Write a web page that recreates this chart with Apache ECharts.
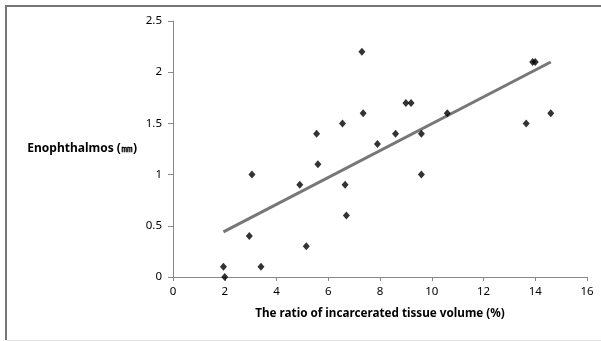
<!DOCTYPE html>
<html>
<head>
<meta charset="utf-8">
<script src="https://cdn.jsdelivr.net/npm/echarts@6/dist/echarts.min.js"></script>
<style>
  html, body { margin: 0; padding: 0; background: #fff; overflow: hidden; }
  #chart { width: 601px; height: 341px; }
</style>
</head>
<body>
<div id="chart"></div>
<script>
// ratio of incarcerated tissue volume (%) vs enophthalmos (mm)
const ratio = [1.95, 2.0, 2.95, 3.05, 3.4, 4.9, 5.15, 5.55, 5.6, 6.55, 6.65, 6.7, 7.3, 7.35, 7.9,
  8.6, 9.0, 9.2, 9.6, 9.6, 10.6, 13.65, 13.9, 14.0, 14.6]
const enophthalmos = [0.1, 0, 0.4, 1.0, 0.1, 0.9, 0.3, 1.4, 1.1, 1.5, 0.9, 0.6, 2.2, 1.6, 1.3,
  1.4, 1.7, 1.7, 1.4, 1.0, 1.6, 1.5, 2.1, 2.1, 1.6]
// linear trend line endpoints
const trendX = [1.95, 14.6]
const trendY = [0.44, 2.1]

const xTicks = { min: 0, max: 16, interval: 2 }
const yTicks = { min: 0, max: 2.5, interval: 0.5 }

const font = 'Noto Sans'
const chart = echarts.init(document.getElementById('chart'))

chart.setOption({
  animation: false,
  // chart-area frame: dark top/left edges, faint bottom edge
  graphic: [
    { type: 'line', shape: { x1: 5, y1: 6, x2: 601, y2: 6 }, style: { stroke: '#777', lineWidth: 2 } },
    { type: 'line', shape: { x1: 6, y1: 5, x2: 6, y2: 341 }, style: { stroke: '#777', lineWidth: 2 } },
    { type: 'line', shape: { x1: 5, y1: 340.5, x2: 601, y2: 340.5 }, style: { stroke: '#e2e2e2', lineWidth: 1 } }
  ],
  grid: { left: 173, right: 14, top: 21, bottom: 64 },
  xAxis: {
    type: 'value',
    min: xTicks.min, max: xTicks.max, interval: xTicks.interval,
    name: 'The ratio of incarcerated tissue volume (%)',
    nameLocation: 'middle',
    nameGap: 31,
    nameTextStyle: { fontFamily: font, fontSize: 11.7, fontWeight: 'bold', color: '#000' },
    axisLine: { onZero: false, lineStyle: { color: '#888', width: 1 } },
    axisTick: { show: true, inside: false, length: 4, lineStyle: { color: '#888' } },
    axisLabel: { margin: 9, fontFamily: font, fontSize: 11.5, color: '#000' },
    splitLine: { show: false }
  },
  yAxis: {
    type: 'value',
    min: yTicks.min, max: yTicks.max, interval: yTicks.interval,
    name: 'Enophthalmos (㎜)',
    nameLocation: 'middle',
    nameRotate: 0,
    nameGap: 36,
    nameTextStyle: { fontFamily: font, fontSize: 12, fontWeight: 'bold', color: '#000', align: 'right', padding: [0, 0, 5, 0] },
    axisLine: { show: true, lineStyle: { color: '#888', width: 1 } },
    axisTick: { show: true, inside: false, length: 5, lineStyle: { color: '#888' } },
    axisLabel: { margin: 11, fontFamily: font, fontSize: 11.5, color: '#000' },
    splitLine: { show: false }
  },
  series: [
    {
      type: 'line',
      data: trendX.map((x, i) => [x, trendY[i]]),
      symbol: 'none',
      lineStyle: { color: '#777', width: 3 },
      z: 2
    },
    {
      type: 'scatter',
      data: ratio.map((x, i) => [x, enophthalmos[i]]),
      symbol: 'diamond',
      symbolSize: [7, 8],
      itemStyle: { color: '#000' },
      z: 3
    }
  ]
})
</script>
</body>
</html>
